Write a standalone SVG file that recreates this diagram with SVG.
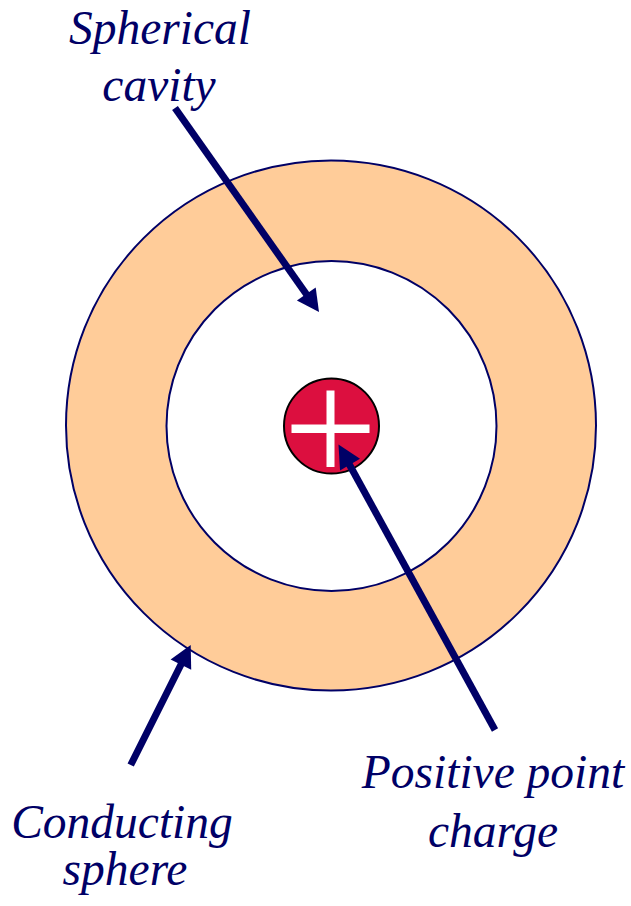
<svg xmlns="http://www.w3.org/2000/svg" width="631" height="906" viewBox="0 0 631 906">
<style>
.lbl{font-family:"Liberation Serif","DejaVu Serif",serif;font-style:italic;font-size:47.5px;fill:#000066;text-anchor:middle}
.ln{stroke:#000066;stroke-width:7;fill:none}
.hd{fill:#000066;stroke:none}
</style>
<rect width="631" height="906" fill="#ffffff"/>
<g id="conducting-sphere">
<circle cx="331" cy="425.5" r="265" fill="#FFCC99" stroke="#000066" stroke-width="2"/>
</g>
<g id="spherical-cavity">
<circle cx="331.5" cy="426" r="165" fill="#ffffff" stroke="#000066" stroke-width="2"/>
</g>
<g id="point-charge">
<circle cx="331.5" cy="426" r="47.5" fill="#DC0F3F" stroke="#000000" stroke-width="2"/>
<rect x="326.5" y="390.5" width="8" height="76.5" fill="#ffffff"/>
<rect x="291.5" y="424.5" width="78" height="8.5" fill="#ffffff"/>
</g>
<g id="connectors">
<line class="ln" x1="175" y1="108" x2="308" y2="296.5"/>
<polygon class="hd" points="319,312 296.9,300.6 315.7,287.4"/>
<line class="ln" x1="495" y1="730" x2="348" y2="462"/>
<polygon class="hd" points="338.5,444.5 360,458.8 340,470.5"/>
<line class="ln" x1="130.7" y1="765" x2="182" y2="662.5"/>
<polygon class="hd" points="190.7,645 191.2,669.8 170.6,659.6"/>
</g>
<g id="label-cavity">
<text class="lbl" x="160" y="44">Spherical</text>
<text class="lbl" x="159" y="101">cavity</text>
</g>
<g id="label-charge">
<text class="lbl" x="493" y="788">Positive point</text>
<text class="lbl" x="493" y="847">charge</text>
</g>
<g id="label-sphere">
<text class="lbl" x="122" y="838">Conducting</text>
<text class="lbl" x="125" y="885">sphere</text>
</g>
</svg>
